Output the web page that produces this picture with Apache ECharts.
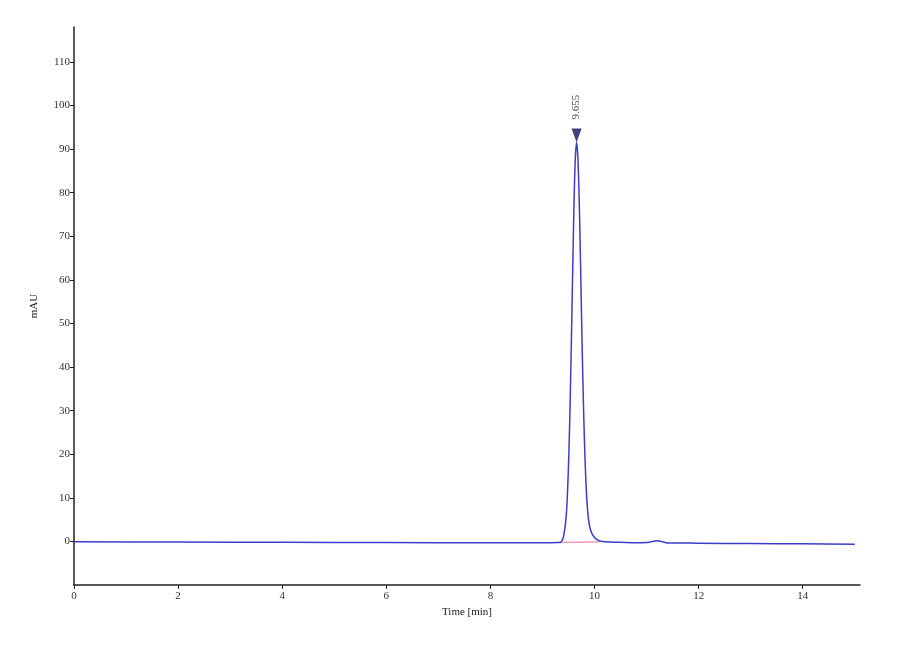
<!DOCTYPE html>
<html>
<head>
<meta charset="utf-8">
<script src="https://cdn.jsdelivr.net/npm/echarts@6/dist/echarts.min.js"></script>
<style>
html,body{margin:0;padding:0;background:#ffffff;}
#chart{width:900px;height:660px;}
</style>
</head>
<body>
<div id="chart"></div>
<script>
// Chromatogram trace: retention time (min) and absorbance (mAU)
const timeMin = [0, 2, 4, 6, 8, 9, 9.3, 9.35, 9.405, 9.455, 9.48, 9.505, 9.53, 9.555, 9.58, 9.605, 9.63, 9.655,
  9.68, 9.705, 9.73, 9.755, 9.78, 9.805, 9.83, 9.855, 9.88, 9.91, 9.95, 10.0, 10.05, 10.1, 10.2, 10.5, 10.8,
  11.0, 11.1, 11.2, 11.3, 11.4, 12, 13, 14, 15];
const absMAU = [-0.1, -0.15, -0.2, -0.25, -0.3, -0.3, -0.25, -0.2, 1.2, 5.7, 11, 19.3, 31, 45.8, 62, 77, 87.6, 91.5,
  88, 78.5, 64.5, 49, 35, 23.5, 15, 9, 5.5, 3.2, 1.8, 0.9, 0.4, 0.1, -0.1, -0.2, -0.3,
  -0.25, -0.05, 0.15, -0.05, -0.35, -0.4, -0.5, -0.55, -0.65];
// Integration baseline under the peak
const baseTime = [9.38, 10.1];
const baseMAU = [-0.2, -0.1];
// Peak annotation
const peakTime = 9.655;
const peakMAU = 91.5;
const peakLabel = "9.655";
// Tick labels
const xTicks = [0, 2, 4, 6, 8, 10, 12, 14];
const yTicks = [0, 10, 20, 30, 40, 50, 60, 70, 80, 90, 100, 110];

const traceData = timeMin.map((t, i) => [t, absMAU[i]]);
const baseData = baseTime.map((t, i) => [t, baseMAU[i]]);

const chart = echarts.init(document.getElementById('chart'));
const font = '"Liberation Serif", "DejaVu Serif", serif';
chart.setOption({
  backgroundColor: '#ffffff',
  animation: false,
  grid: { left: 74, right: 40, top: 27, bottom: 75 },
  xAxis: {
    type: 'value', min: 0, max: 15.1,
    name: 'Time [min]', nameLocation: 'middle', nameGap: 22,
    nameTextStyle: { fontFamily: font, fontSize: 11, color: '#222' },
    axisLine: { onZero: false, lineStyle: { color: '#222', width: 1.5 } },
    axisTick: { show: true, length: 4, customValues: xTicks, lineStyle: { color: '#222' } },
    axisLabel: { customValues: xTicks, fontFamily: font, fontSize: 11, color: '#333', margin: 6 },
    splitLine: { show: false }
  },
  yAxis: {
    type: 'value', min: -10, max: 118,
    name: 'mAU', nameLocation: 'middle', nameGap: 34, nameRotate: 90,
    nameTextStyle: { fontFamily: font, fontSize: 11, color: '#222' },
    axisLine: { show: true, onZero: false, lineStyle: { color: '#222', width: 1.5 } },
    axisTick: { show: true, length: 4, customValues: yTicks, lineStyle: { color: '#222' } },
    axisLabel: { customValues: yTicks, fontFamily: font, fontSize: 11, color: '#333', margin: 4 },
    splitLine: { show: false }
  },
  series: [
    {
      type: 'line', data: baseData, symbol: 'none',
      lineStyle: { color: '#f08aa8', width: 1.2 }, z: 1
    },
    {
      type: 'line', data: traceData, symbol: 'none', smooth: 0.3,
      lineStyle: { color: '#3c3cc8', width: 1.5 }, z: 2
    },
    {
      type: 'scatter', data: [[peakTime, peakMAU]],
      symbol: 'triangle', symbolRotate: 180, symbolSize: [10, 14], symbolOffset: [0, -7],
      itemStyle: { color: '#10105e' },
      label: {
        show: true, formatter: peakLabel, position: 'top', distance: 9,
        rotate: 90, align: 'left', verticalAlign: 'middle',
        fontFamily: font, fontSize: 11, color: '#222'
      },
      z: 3
    }
  ]
});
</script>
</body>
</html>
